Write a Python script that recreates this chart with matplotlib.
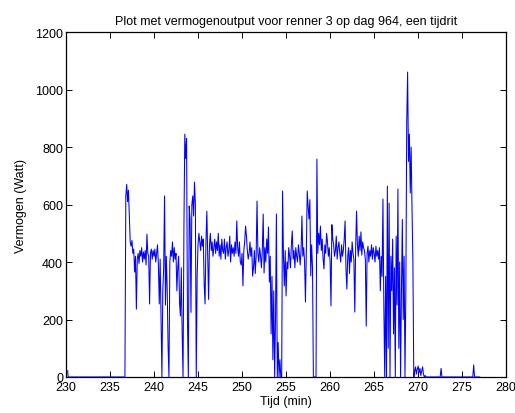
import numpy as np
import matplotlib
matplotlib.use("Agg")
import matplotlib.pyplot as plt

plt.rcParams['font.family'] = ['Liberation Sans', 'DejaVu Sans']

# power output in Watt, one sample per 0.1 min starting at 236.0 min
start_min = 236.0
step_min = 0.1
power = [
    0, 0, 0, 0, 0, 0, 0, 0, 630, 670,                        # 236
    610, 650, 560, 470, 455, 475, 430, 445, 365, 420,        # 237
    236, 410, 430, 395, 440, 420, 450, 400, 435, 410,        # 238
    440, 390, 497, 430, 420, 254, 430, 445, 410, 440,        # 239
    420, 445, 400, 430, 460, 390, 254, 410, 200, 0,          # 240
    300, 380, 630, 250, 420, 306, 108, 0, 400, 440,          # 241
    420, 470, 400, 450, 410, 430, 300, 380, 420, 260,        # 242
    212, 380, 150, 0, 520, 845, 760, 830, 200, 0,            # 243
    595, 550, 225, 600, 630, 560, 678, 600, 0, 350,          # 244
    460, 500, 470, 440, 490, 455, 480, 323, 254, 470,        # 245
    577, 430, 270, 460, 500, 440, 470, 420, 450, 480,        # 246
    430, 470, 440, 500, 420, 460, 410, 480, 440, 430,        # 247
    480, 410, 450, 470, 420, 440, 490, 400, 460, 430,        # 248
    450, 420, 470, 430, 543, 450, 420, 470, 400, 390,        # 249
    430, 317, 440, 470, 525, 490, 440, 410, 430, 470,        # 250
    420, 450, 351, 380, 440, 360, 420, 612, 430, 400,        # 251
    450, 420, 380, 440, 567, 362, 450, 400, 480, 430,        # 252
    522, 330, 420, 150, 350, 60, 300, 0, 200, 567,           # 253
    0, 120, 0, 60, 0, 0, 647, 420, 317, 440,                 # 254
    282, 400, 376, 450, 420, 380, 460, 508, 410, 440,        # 255
    380, 450, 420, 400, 460, 430, 390, 440, 560, 420,        # 256
    450, 400, 261, 440, 647, 595, 550, 617, 352, 460,        # 257
    380, 0, 0, 0, 0, 758, 430, 500, 460, 525,                # 258
    440, 480, 410, 376, 460, 430, 500, 470, 420, 450,        # 259
    400, 247, 530, 480, 460, 420, 440, 490, 410, 450,        # 260
    470, 430, 400, 460, 420, 440, 480, 543, 376, 306,        # 261
    420, 450, 360, 440, 400, 470, 430, 410, 226, 450,        # 262
    577, 460, 420, 490, 440, 505, 424, 470, 450, 440,        # 263
    410, 177, 430, 455, 400, 440, 420, 460, 410, 450,        # 264
    430, 400, 455, 420, 440, 410, 450, 300, 420, 350,        # 265
    619, 250, 0, 350, 0, 664, 100, 605, 0, 420,              # 266
    300, 480, 150, 380, 0, 490, 250, 654, 100, 400,          # 267
    0, 300, 548, 200, 420, 0, 300, 887, 1061, 750,           # 268
    845, 640, 800, 584, 400, 0, 20, 35, 10, 28,              # 269
    38, 15, 30, 5, 20, 35, 10, 0, 5, 0,                      # 270
    0, 0, 0, 0, 0, 0, 0, 0, 0, 0,                            # 271
    0, 0, 0, 0, 0, 0, 30, 0, 0, 0,                           # 272
    0, 0, 0, 0, 0, 0, 0, 0, 0, 0,                            # 273
    0, 0, 0, 0, 0, 0, 0, 0, 0, 0,                            # 274
    0, 0, 0, 0, 0, 0, 0, 0, 0, 0,                            # 275
    0, 0, 0, 42, 0, 0, 0, 0, 0, 0,                           # 276
    0,
]
# short blip at the very start of the recording
lead_time = [230.2, 230.25, 235.95]
lead_power = [22, 0, 0]

time = np.concatenate([lead_time, start_min + step_min * np.arange(len(power))])
watt = np.concatenate([lead_power, power])

fig = plt.figure(figsize=(5.15, 4.14), dpi=100)
ax = fig.add_axes([0.128, 0.087, 0.855, 0.833])
ax.plot(time, watt, color=(0, 0, 1), linewidth=0.75)

ax.set_xlim(230, 280)
ax.set_ylim(0, 1200)
ax.set_xticks(np.arange(230, 281, 5))
ax.set_yticks(np.arange(0, 1201, 200))
ax.tick_params(direction='in', top=True, right=True, length=4, width=0.7,
               labelsize=9, pad=2)
ax.tick_params(axis='x', pad=3)
for s in ax.spines.values():
    s.set_linewidth(0.9)
    s.set_zorder(3)

ax.set_title('Plot met vermogenoutput voor renner 3 op dag 964, een tijdrit',
             fontsize=9, pad=6)
ax.set_xlabel('Tijd (min)', fontsize=9, labelpad=1)
ax.set_ylabel('Vermogen (Watt)', fontsize=9, labelpad=6)

fig.savefig('out.png', dpi=100, facecolor='white')
